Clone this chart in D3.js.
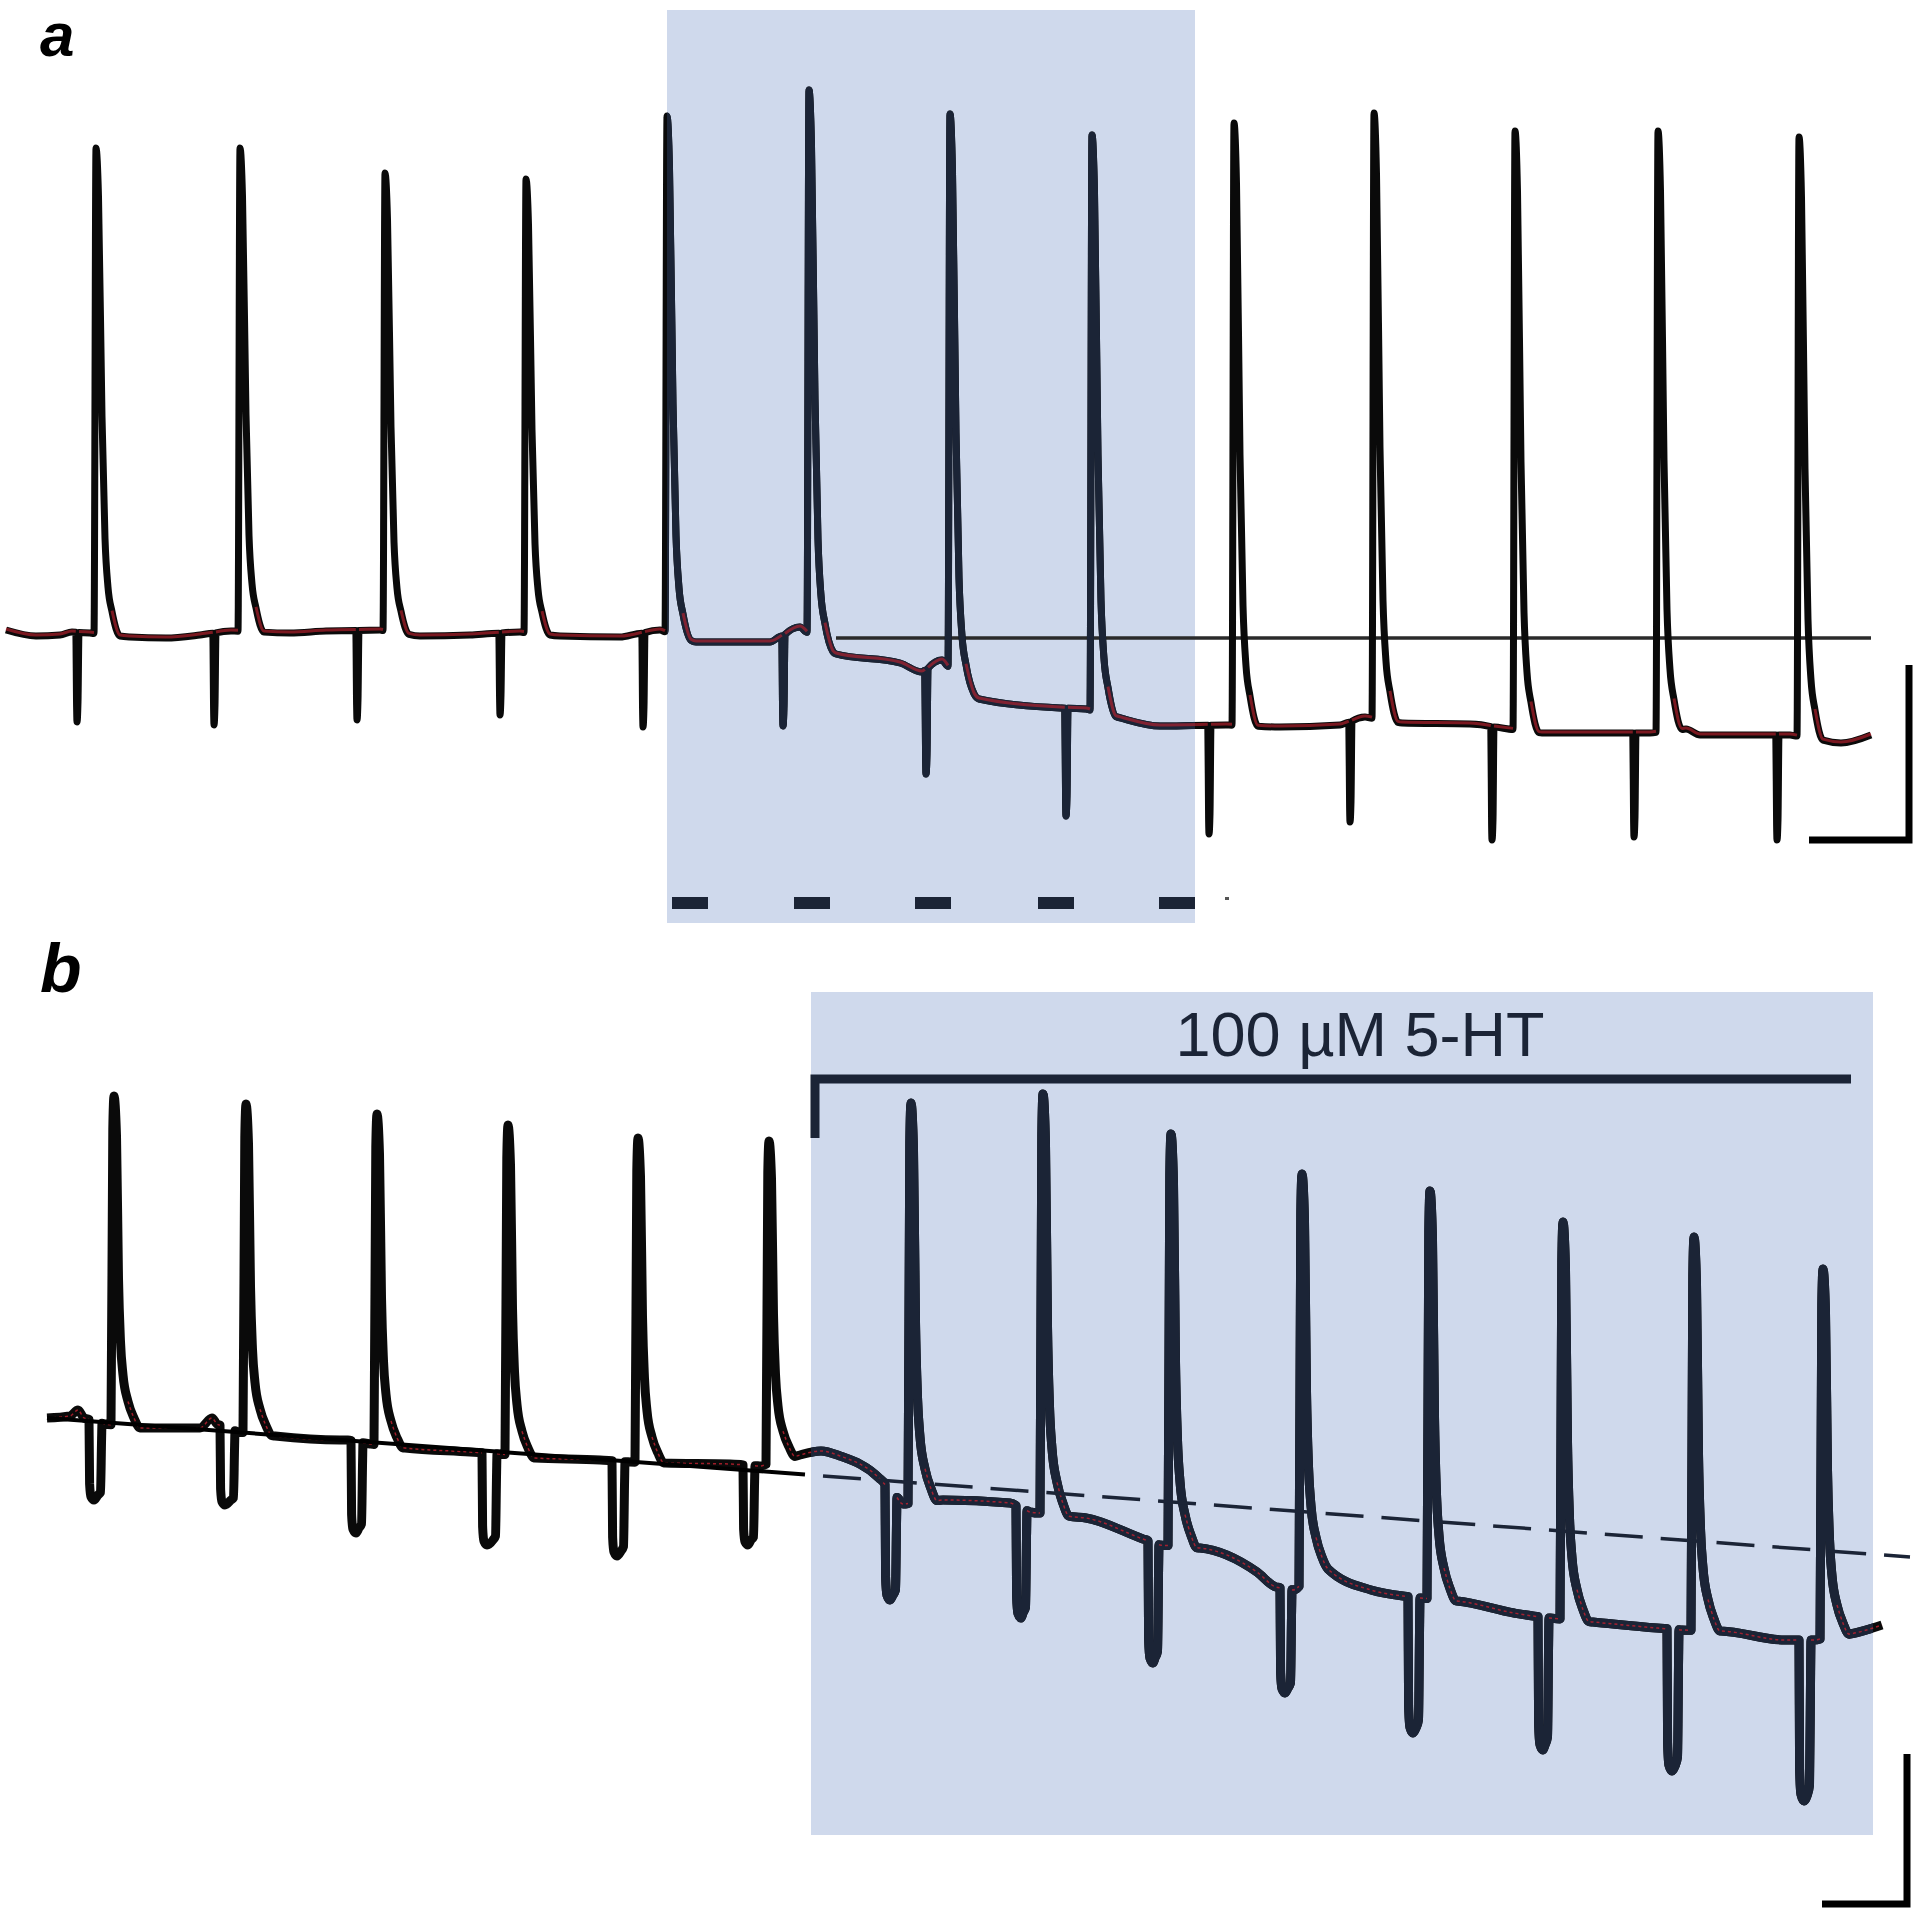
<!DOCTYPE html>
<html>
<head>
<meta charset="utf-8">
<script src="https://cdn.jsdelivr.net/npm/d3@7"></script>
<style>
  html, body { margin: 0; padding: 0; background: #fff; }
  svg { display: block; }
</style>
</head>
<body>
<svg id="chart" width="1920" height="1917"></svg>
<script>
// ---------- panel a : spikes, stimulus artefacts, resting level ----------
// time in s, voltage in mV
const aSpikeTime = [0.90, 2.34, 3.79, 5.20, 6.61, 8.03, 9.44, 10.86, 12.28, 13.68, 15.09, 16.52, 17.93];
const aSpikePeak = [36.4, 36.4, 31.4, 30.2, 42.8, 48.0, 43.2, 39.0, 41.4, 43.4, 39.8, 39.8, 38.6];
const aStimTime = [0.71, 2.08, 3.51, 4.94, 6.37, 7.77, 9.20, 10.60, 12.03, 13.44, 14.86, 16.28, 17.71];
const aStimTrough = [-78.4, -79.0, -78.0, -77.0, -79.4, -79.2, -88.8, -97.2, -100.8, -98.4, -102.0, -101.4, -102.0];
const aBaseTime = [0, 0.30, 0.54, 0.66, 0.84, 1.24, 1.60, 1.94, 2.25, 2.84, 3.20, 3.74, 4.14, 4.64, 5.14,
  5.54, 6.14, 6.54, 6.90, 7.64, 7.94, 8.30, 8.94, 9.16, 9.36, 9.73, 10.54, 10.80, 11.11, 11.54, 12.20,
  12.74, 13.34, 13.59, 13.96, 14.64, 15.36, 16.44, 16.80, 16.94, 17.84, 18.35, 18.65];
const aBaseMv = [-60, -61.2, -61, -60.4, -60.6, -61.4, -61.6, -61, -60.2, -60.6, -60.2, -60, -61.2, -61, -60.4,
  -61.2, -61.4, -60, -62.4, -62.4, -59.4, -64.8, -66.6, -68.4, -66, -73.8, -75.6, -75.8, -77.4, -79.2, -79,
  -79.4, -79, -77.4, -78.6, -78.8, -80.6, -80.6, -79.8, -81, -81, -82.6, -81];
const aDrug = [6.61, 11.89];
const aRefLevel = -61.6, aRefFrom = 8.30;
const aLightStart = [6.66, 7.88, 9.09, 10.32, 11.53], aLightDur = 0.36, aLightTail = 12.19;
const aScaleBar = { s: 1, mV: 35, t: 19.03, v: -102 };

// ---------- panel b ----------
const bSpikeTime = [0.67, 1.99, 3.30, 4.61, 5.91, 7.22, 8.64, 9.96, 11.24, 12.55, 13.83, 15.16, 16.47, 17.76];
const bSpikePeak = [4.8, 3.2, 1.2, -1.0, -3.6, -4.2, 3.4, 5.2, -2.8, -10.8, -14.2, -20.4, -23.4, -29.8];
const bPulseStart = [0.42, 1.73, 3.04, 4.35, 5.65, 6.96, 8.38, 9.69, 11.01, 12.33, 13.61, 14.91, 16.20, 17.52];
const bPulseEnd = [0.55, 1.88, 3.16, 4.50, 5.78, 7.08, 8.50, 9.80, 11.12, 12.45, 13.73, 15.02, 16.32, 17.64];
const bPulseMin = [-76, -77, -82.6, -85, -87.2, -85, -96, -99.6, -108.6, -114.6, -122.6, -126, -130.2, -136.2];
const bBaseTime = [0, 0.23, 0.31, 0.37, 0.58, 0.93, 1.53, 1.65, 1.70, 1.91, 2.28, 2.93, 3.01, 3.23, 3.58,
  4.23, 4.53, 4.88, 5.53, 5.83, 6.18, 6.83, 7.13, 7.53, 7.74, 7.93, 8.32, 8.56, 8.96, 9.63, 9.83, 10.39,
  10.96, 11.13, 11.53, 12.10, 12.29, 12.46, 12.81, 13.24, 13.56, 13.74, 14.10, 14.67, 14.86, 15.03, 15.46,
  16.10, 16.35, 16.74, 17.38, 17.67, 18.03, 18.35];
const bBaseMv = [-59.6, -59.2, -58, -59.6, -60.8, -61.6, -61.6, -59.6, -60.8, -62.4, -63.2, -64, -64, -64.8, -65.6,
  -66.4, -66.8, -67.6, -68, -68.4, -68.6, -68.8, -69.2, -67, -66.2, -67.2, -71.6, -76.8, -76, -76.6, -78.4, -79.6,
  -83.8, -85, -85.6, -90.4, -93.4, -94, -89.8, -94, -95.2, -95.6, -96.2, -98.6, -99.2, -99.6, -100.4,
  -101.6, -102, -102.2, -104, -104, -102.8, -101];
const bDrug = [7.64, 18.26];
const bDrugBar = [7.64, 18.04];
const bDrugLabel = "100 µM 5-HT";
const bTrend = { t0: 0, v0: -59.6, t1: 18.63, v1: -87.4, solidEnd: 7.58, dashStart: 7.76 };
const bScaleBar = { s: 0.85, mV: 30, t: 18.6, v: -156.8 };

// spike shape: [offset s, fraction of amplitude]
const spikeShapeA = [[-0.02, 0], [0, 1], [0.025, 0.9], [0.06, 0.45], [0.09, 0.2], [0.12, 0.1], [0.16, 0.05], [0.24, 0]];
const spikeShapeB = [[-0.03, 0], [-0.012, 0.9], [0, 1], [0.025, 0.88], [0.045, 0.45], [0.065, 0.26],
  [0.09, 0.16], [0.14, 0.08], [0.2, 0.03], [0.26, 0]];

const black = "#0a0a0a", navy = "#1b2436", shade = "#cfd9ec", red = "#c4212f";

const svg = d3.select("#chart");

const xa = d3.scaleLinear().domain([0, 10]).range([6, 1006]);
const ya = d3.scaleLinear().domain([-60, 40]).range([630, 130]);
const xb = d3.scaleLinear().domain([0, 10]).range([47, 1047]);
const yb = d3.scaleLinear().domain([-60, 40]).range([1420, 920]);

// merges resting level, spikes and artefacts into one sweep; rest = true where the trace sits at rest
function buildTrace(baseT, baseV, spikeT, spikeP, shape, events) {
    let base = d3.scaleLinear().domain(baseT).range(baseV).clamp(true);
    let windows = [];
    let pts = [];
    spikeT.forEach((t, i) => {
        let a = t + shape[0][0], b = t + shape[shape.length - 1][0];
        windows.push([a, b]);
        let pre = base(a), post = base(b);
        shape.forEach(([dt, f], k) => {
            let lvl = k === 0 ? pre : post;
            pts.push({ t: t + dt, v: lvl + f * (spikeP[i] - lvl), rest: f < 0.1 && dt > 0 || k === 0 });
        });
    });
    events.forEach(ev => {
        windows.push([ev.from, ev.to]);
        let p = ev.points(base);
        p.forEach((d, k) => pts.push({ t: d[0], v: d[1], rest: k === 0 || k === p.length - 1 }));
    });
    baseT.forEach((t, i) => {
        if (!windows.some(w => t > w[0] - 0.005 && t < w[1] + 0.005)) pts.push({ t: t, v: baseV[i], rest: true });
    });
    pts.sort((p, q) => p.t - q.t);
    return pts;
}

// narrow stimulus artefacts of panel a
const aEvents = aStimTime.map((t, i) => ({
    from: t - 0.012, to: t + 0.02,
    points: base => {
        let pre = base(t - 0.012), post = base(t + 0.02), m = aStimTrough[i];
        return [[t - 0.012, pre], [t - 0.004, m + 3], [t, m], [t + 0.01, m + 4], [t + 0.02, post]];
    }
}));

// hyperpolarising current steps of panel b
const bEvents = bPulseStart.map((s, i) => ({
    from: s, to: bPulseEnd[i],
    points: base => {
        let e = bPulseEnd[i], pre = base(s), post = base(e), m = bPulseMin[i];
        return [[s, pre], [s + 0.006, pre + 0.8 * (m - pre)], [s + 0.02, pre + 0.96 * (m - pre)],
                [s + 0.05, m], [e - 0.04, m + 1], [e - 0.015, post + 0.9 * (m - post)], [e - 0.004, post + 0.2 * (m - post)], [e, post]];
    }
}));

const traceA = buildTrace(aBaseTime, aBaseMv, aSpikeTime, aSpikePeak, spikeShapeA, aEvents);
const traceB = buildTrace(bBaseTime, bBaseMv, bSpikeTime, bSpikePeak, spikeShapeB, bEvents);

const lineA = d3.line().x(d => xa(d.t)).y(d => ya(d.v)).curve(d3.curveMonotoneX);
const lineB = d3.line().x(d => xb(d.t)).y(d => yb(d.v)).curve(d3.curveMonotoneX);
const restA = d3.line().defined(d => d.rest).x(d => xa(d.t)).y(d => ya(d.v)).curve(d3.curveMonotoneX);
const restB = d3.line().defined(d => d.rest).x(d => xb(d.t)).y(d => yb(d.v)).curve(d3.curveMonotoneX);

// ---------- shaded drug periods ----------
const defs = svg.append("defs");
defs.append("clipPath").attr("id", "clipA").append("rect")
    .attr("x", xa(aDrug[0])).attr("y", 10).attr("width", xa(aDrug[1]) - xa(aDrug[0])).attr("height", 913);
defs.append("clipPath").attr("id", "clipB").append("rect")
    .attr("x", xb(bDrug[0])).attr("y", 992).attr("width", xb(bDrug[1]) - xb(bDrug[0])).attr("height", 843);

svg.append("rect")
    .attr("x", xa(aDrug[0])).attr("y", 10)
    .attr("width", xa(aDrug[1]) - xa(aDrug[0])).attr("height", 913)
    .style("fill", shade);

svg.append("rect")
    .attr("x", xb(bDrug[0])).attr("y", 992)
    .attr("width", xb(bDrug[1]) - xb(bDrug[0])).attr("height", 843)
    .style("fill", shade);

// ---------- panel a ----------
const gA = svg.append("g");

gA.append("line")
    .attr("x1", xa(aRefFrom)).attr("x2", xa(aBaseTime[aBaseTime.length - 1]))
    .attr("y1", ya(aRefLevel)).attr("y2", ya(aRefLevel))
    .style("stroke", "#2a2a2a").style("stroke-width", 3.5);

gA.append("path").datum(traceA)
    .attr("d", lineA)
    .style("fill", "none").style("stroke", black).style("stroke-width", 7)
    .style("stroke-linejoin", "round");

gA.append("path").datum(traceA)
    .attr("d", lineA)
    .attr("clip-path", "url(#clipA)")
    .style("fill", "none").style("stroke", navy).style("stroke-width", 7)
    .style("stroke-linejoin", "round");

gA.append("path").datum(traceA)
    .attr("d", restA)
    .attr("transform", "translate(0,-1)")
    .style("fill", "none").style("stroke", red).style("stroke-width", 3)
    .style("opacity", 0.6);

gA.selectAll("rect.light")
    .data(aLightStart)
    .join("rect")
    .attr("class", "light")
    .attr("x", d => xa(d)).attr("y", 897)
    .attr("width", xa(aLightDur) - xa(0)).attr("height", 12)
    .style("fill", navy);

gA.append("rect")
    .attr("x", xa(aLightTail)).attr("y", 897).attr("width", 4).attr("height", 3)
    .style("fill", "#555");

gA.append("path")
    .attr("d", `M${xa(aScaleBar.t)},${ya(aScaleBar.v + aScaleBar.mV)} V${ya(aScaleBar.v)} H${xa(aScaleBar.t - aScaleBar.s)}`)
    .style("fill", "none").style("stroke", "#000").style("stroke-width", 7);

svg.append("text")
    .attr("x", 40).attr("y", 56)
    .style("font-family", "'Liberation Sans', Arial, sans-serif")
    .style("font-weight", "bold").style("font-style", "italic")
    .style("font-size", "62px")
    .text("a");

// ---------- panel b ----------
const gB = svg.append("g");

gB.append("path").datum(traceB)
    .attr("d", lineB)
    .style("fill", "none").style("stroke", black).style("stroke-width", 9)
    .style("stroke-linejoin", "round");

gB.append("path").datum(traceB)
    .attr("d", lineB)
    .attr("clip-path", "url(#clipB)")
    .style("fill", "none").style("stroke", navy).style("stroke-width", 9)
    .style("stroke-linejoin", "round");

gB.append("path").datum(traceB)
    .attr("d", restB)
    .style("fill", "none").style("stroke", red).style("stroke-width", 1.5)
    .style("stroke-dasharray", "3,3").style("opacity", 0.8);

const trendAt = t => bTrend.v0 + (bTrend.v1 - bTrend.v0) * (t - bTrend.t0) / (bTrend.t1 - bTrend.t0);

gB.append("line")
    .attr("x1", xb(bTrend.t0)).attr("y1", yb(trendAt(bTrend.t0)))
    .attr("x2", xb(bTrend.solidEnd)).attr("y2", yb(trendAt(bTrend.solidEnd)))
    .style("stroke", "#000").style("stroke-width", 4);

gB.append("line")
    .attr("x1", xb(bTrend.dashStart)).attr("y1", yb(trendAt(bTrend.dashStart)))
    .attr("x2", xb(bTrend.t1)).attr("y2", yb(trendAt(bTrend.t1)))
    .style("stroke", navy).style("stroke-width", 3.5)
    .style("stroke-dasharray", "38,18");

gB.append("path")
    .attr("d", `M${xb(bDrugBar[0]) + 4},1138 V1079 H${xb(bDrugBar[1])}`)
    .style("fill", "none").style("stroke", navy).style("stroke-width", 9);

gB.append("text")
    .attr("x", 1360).attr("y", 1056)
    .attr("text-anchor", "middle")
    .style("font-family", "'Liberation Sans', Arial, sans-serif")
    .style("font-size", "63px")
    .style("fill", navy)
    .text(bDrugLabel);

gB.append("path")
    .attr("d", `M${xb(bScaleBar.t)},${yb(bScaleBar.v + bScaleBar.mV)} V${yb(bScaleBar.v)} H${xb(bScaleBar.t - bScaleBar.s)}`)
    .style("fill", "none").style("stroke", "#000").style("stroke-width", 7);

svg.append("text")
    .attr("x", 40).attr("y", 992)
    .style("font-family", "'Liberation Sans', Arial, sans-serif")
    .style("font-weight", "bold").style("font-style", "italic")
    .style("font-size", "68px")
    .text("b");
</script>
</body>
</html>
